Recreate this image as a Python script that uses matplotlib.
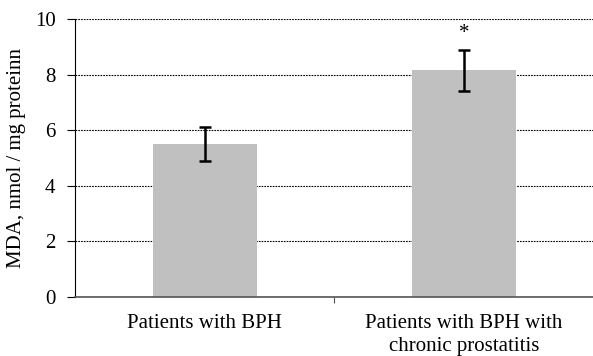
import matplotlib
matplotlib.use("Agg")
import matplotlib.pyplot as plt
import numpy as np

categories = ["Patients with BPH", "Patients with BPH with\nchronic prostatitis"]
values = [5.5, 8.15]
errors = [0.6, 0.73]
marks = ["", "*"]

plt.rcParams["font.family"] = ["Liberation Serif", "DejaVu Serif"]
plt.rcParams["font.size"] = 15

fig = plt.figure(figsize=(5.93, 3.56), dpi=100)
ax = fig.add_axes([0.1265, 0.166, 0.875, 0.7806])

x = np.arange(len(categories))
ax.bar(x, values, width=0.4, color="#c0c0c0", zorder=2)
ax.errorbar(x, values, yerr=errors, fmt="none", ecolor="black",
            elinewidth=1.8, capsize=4.5, capthick=1.8, zorder=3)
for xi, v, e, m in zip(x, values, errors, marks):
    if m:
        ax.text(xi, v + e + 0.25, m, ha="center", va="bottom", fontsize=15)

ax.set_xlim(-0.5, 1.5)
ax.set_ylim(0, 10)
ax.set_yticks(range(0, 11, 2))
ax.yaxis.grid(True, linestyle=(0, (1.5, 1)), color="black", linewidth=0.8)
ax.set_axisbelow(True)

ax.set_xticks([0.5])
ax.set_xticklabels([""])
ax.tick_params(axis="x", length=4, color="#555555")
for xi, c in zip(x, categories):
    ax.text(xi, -0.62, c, ha="center", va="top", linespacing=1.25,
            transform=ax.transData)

ax.tick_params(axis="y", length=6, width=0.8, pad=8)
ax.spines["top"].set_visible(False)
ax.spines["right"].set_visible(False)
ax.spines["left"].set_color("black")
ax.spines["bottom"].set_color("#555555")
ax.spines["bottom"].set_linewidth(1.2)
ax.set_ylabel("MDA, nmol / mg proteinn", labelpad=6)

fig.savefig("out.png", dpi=100)
